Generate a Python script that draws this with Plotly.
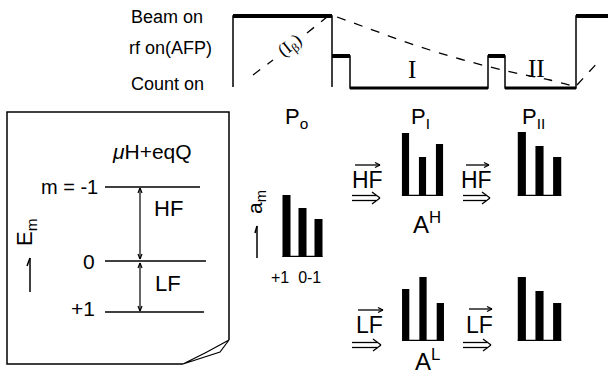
import plotly.graph_objects as go

W, H = 608, 379

# ---- timing diagram (pixel-space schematic) ----
beam_x = [233, 233, 332, 332]
beam_y = [87, 16, 16, 87]
rf_x = [332, 350, 350, 488, 488, 505, 505, 576, 576, 608]
rf_y = [56, 56, 88, 88, 56, 56, 88, 88, 16, 16]
decay_x = [337, 370, 400, 430, 460, 490, 520, 550, 573]
decay_y = [17, 29, 40, 50, 59, 67, 74, 80, 86]

# ---- population bar groups ----
m_labels = ["+1", "0", "-1"]
p0_vals = [62, 49, 38]
p1_hf_vals = [63, 39, 52]
p2_hf_vals = [64, 50, 39]
p1_lf_vals = [52, 64, 38]
p2_lf_vals = [64, 50, 38]

fig = go.Figure()
K = "black"
SANS = "Liberation Sans"
SERIF = "Liberation Serif"

def seg(x0, y0, x1, y1, w=1.5, dash=None):
    fig.add_shape(type="line", x0=x0, y0=y0, x1=x1, y1=y1, xref="x", yref="y",
                  line=dict(color=K, width=w, dash=dash))

def txt(x, y, s, size=18, font=SANS, angle=0, anchor="center"):
    fig.add_annotation(x=x, y=y, xref="x", yref="y", text=s, showarrow=False,
                       textangle=angle, xanchor=anchor, yanchor="middle",
                       font=dict(family=font, size=size, color=K))

# timing lines
fig.add_trace(go.Scatter(x=beam_x, y=beam_y, mode="lines", line=dict(color=K, width=1.5),
                         xaxis="x", yaxis="y", hoverinfo="skip"))
fig.add_trace(go.Scatter(x=rf_x, y=rf_y, mode="lines", line=dict(color=K, width=1.5),
                         xaxis="x", yaxis="y", hoverinfo="skip"))
# thick levels
for (a, b, y, w) in [(beam_x[1], beam_x[2], beam_y[1], 4), (rf_x[0], rf_x[1], rf_y[0], 4),
                     (rf_x[4], rf_x[5], rf_y[4], 4), (rf_x[8], rf_x[9], rf_y[8], 4),
                     (rf_x[2], rf_x[3], rf_y[2], 3), (rf_x[6], rf_x[7], rf_y[6], 3)]:
    seg(a, y, b, y, w)
fig.add_trace(go.Scatter(x=decay_x, y=decay_y, mode="lines", line=dict(color=K, width=1.3, dash="dash"),
                         xaxis="x", yaxis="y", line_shape="spline", hoverinfo="skip"))
seg(253, 75, 273, 60, 1.3, "dash")
seg(307, 33, 327, 17, 1.3, "dash")
seg(577, 85, 601, 59, 1.3, "dash")
txt(290, 46, "(I<sub>β</sub>)", 18, SERIF, -38)
txt(412, 69, "I", 25, SERIF)
txt(536, 68, "II", 25, SERIF)

txt(129, 17, "Beam on", 18, SANS, anchor="left")
txt(127, 48, "rf on(AFP)", 18, SANS, anchor="left")
txt(129, 84, "Count on", 18, SANS, anchor="left")

# ---- left box (energy levels) ----
fig.add_shape(type="path", path="M 183 364 L 7 364 L 7 112 L 229 112 L 229 340",
              xref="x", yref="y", line=dict(color=K, width=1.5))
fig.add_shape(type="path", path="M 183 364 Q 206 353 229 340 M 183 364 L 220 352 L 229 340",
              xref="x", yref="y", line=dict(color=K, width=1.2))
seg(105, 187, 200, 187)
seg(105, 261, 206, 261)
seg(105, 312, 204, 312)
txt(100, 187, "m = -1", 20, SANS, anchor="right")
txt(97, 261, "0", 21, SANS, anchor="right")
txt(97, 308, "+1", 21, SANS, anchor="right")
txt(152, 151, "<i>μ</i>H+eqQ", 21, SANS)
txt(168, 208, "HF", 22, SANS)
txt(168, 283, "LF", 22, SANS)

def darrow_v(x, y0, y1):
    seg(x, y0, x, y1, 1.2)
    for yy, d in [(y0, 1), (y1, -1)]:
        seg(x, yy, x - 2, yy + 5 * d, 1.2)
        seg(x, yy, x + 2, yy + 5 * d, 1.2)

darrow_v(140, 188, 259)
darrow_v(140, 263, 311)
txt(26, 232, "E<sub>m</sub>", 22, SANS, -90)
seg(30, 292, 30, 258, 1.5)
seg(30, 258, 27, 266, 1.5)

# ---- population panels ----
txt(296, 118, "P<sub>o</sub>", 22, SANS)
txt(420, 118, "P<sub>I</sub>", 22, SANS)
txt(533, 118, "P<sub>II</sub>", 22, SANS)
txt(256, 202, "a<sub>m</sub>", 21, SANS, -90)
seg(257, 258, 257, 226, 1.5)
seg(257, 226, 255, 233, 1.5)
txt(296, 277, "+1  0-1", 16, SANS)
txt(427, 223, "A<sup>H</sup>", 24, SANS)
txt(427, 360, "A<sup>L</sup>", 24, SANS)

def hop(xc, ytxt, label, yover, ox0, ox1, dx0, dx1, dy):
    txt(xc, ytxt, label, 23, SANS)
    seg(ox0, yover, ox1, yover, 1.3)
    seg(ox1 - 5, yover - 2.5, ox1, yover, 1.3)
    seg(ox1 - 5, yover + 2.5, ox1, yover, 1.3)
    seg(dx0, dy - 2.5, dx1 - 4, dy - 2.5, 1.3)
    seg(dx0, dy + 2.5, dx1 - 4, dy + 2.5, 1.3)
    seg(dx1 - 8, dy - 6, dx1, dy, 1.3)
    seg(dx1 - 8, dy + 6, dx1, dy, 1.3)

hop(367, 180, "HF", 165, 355, 380, 352, 380, 198)
hop(476, 180, "HF", 165, 466, 489, 463, 490, 198)
hop(369, 325, "LF", 310, 358, 383, 352, 381, 345)
hop(479, 325, "LF", 309, 469, 492, 463, 491, 345)

groups = [
    (p0_vals, (278.5, 326.5), 257, 0.5),
    (p1_hf_vals, (397, 448), 196, 0.42),
    (p2_hf_vals, (513, 566), 196, 0.46),
    (p1_lf_vals, (397, 449), 341, 0.42),
    (p2_lf_vals, (513, 566), 341, 0.46),
]
layout_axes = {}
for i, (vals, (px0, px1), base, bw) in enumerate(groups, start=2):
    xa, ya = f"x{i}", f"y{i}"
    fig.add_trace(go.Bar(x=[0, 1, 2], y=vals, width=bw, marker=dict(color=K, line=dict(width=0)),
                         xaxis=xa, yaxis=ya, hovertext=m_labels, hoverinfo="text+y"))
    layout_axes[f"xaxis{i}"] = dict(domain=[px0 / W, px1 / W], range=[-0.5, 2.5], visible=False,
                                    anchor=ya, fixedrange=True)
    layout_axes[f"yaxis{i}"] = dict(domain=[1 - base / H, 1 - (base - 70) / H], range=[0, 70],
                                    visible=False, anchor=xa, fixedrange=True)
    fig.add_shape(type="line", xref=xa, yref=ya, x0=-bw / 2, x1=2 + bw / 2, y0=0.6, y1=0.6,
                  line=dict(color=K, width=1.5))

fig.update_layout(
    width=W, height=H, margin=dict(l=0, r=0, t=0, b=0),
    paper_bgcolor="white", plot_bgcolor="white", showlegend=False,
    xaxis=dict(range=[0, W], visible=False, domain=[0, 1], fixedrange=True),
    yaxis=dict(range=[H, 0], visible=False, domain=[0, 1], fixedrange=True),
    **layout_axes,
)
fig.write_html("out.html", config={"displayModeBar": False},
               post_script="document.body.style.margin='0px';")
